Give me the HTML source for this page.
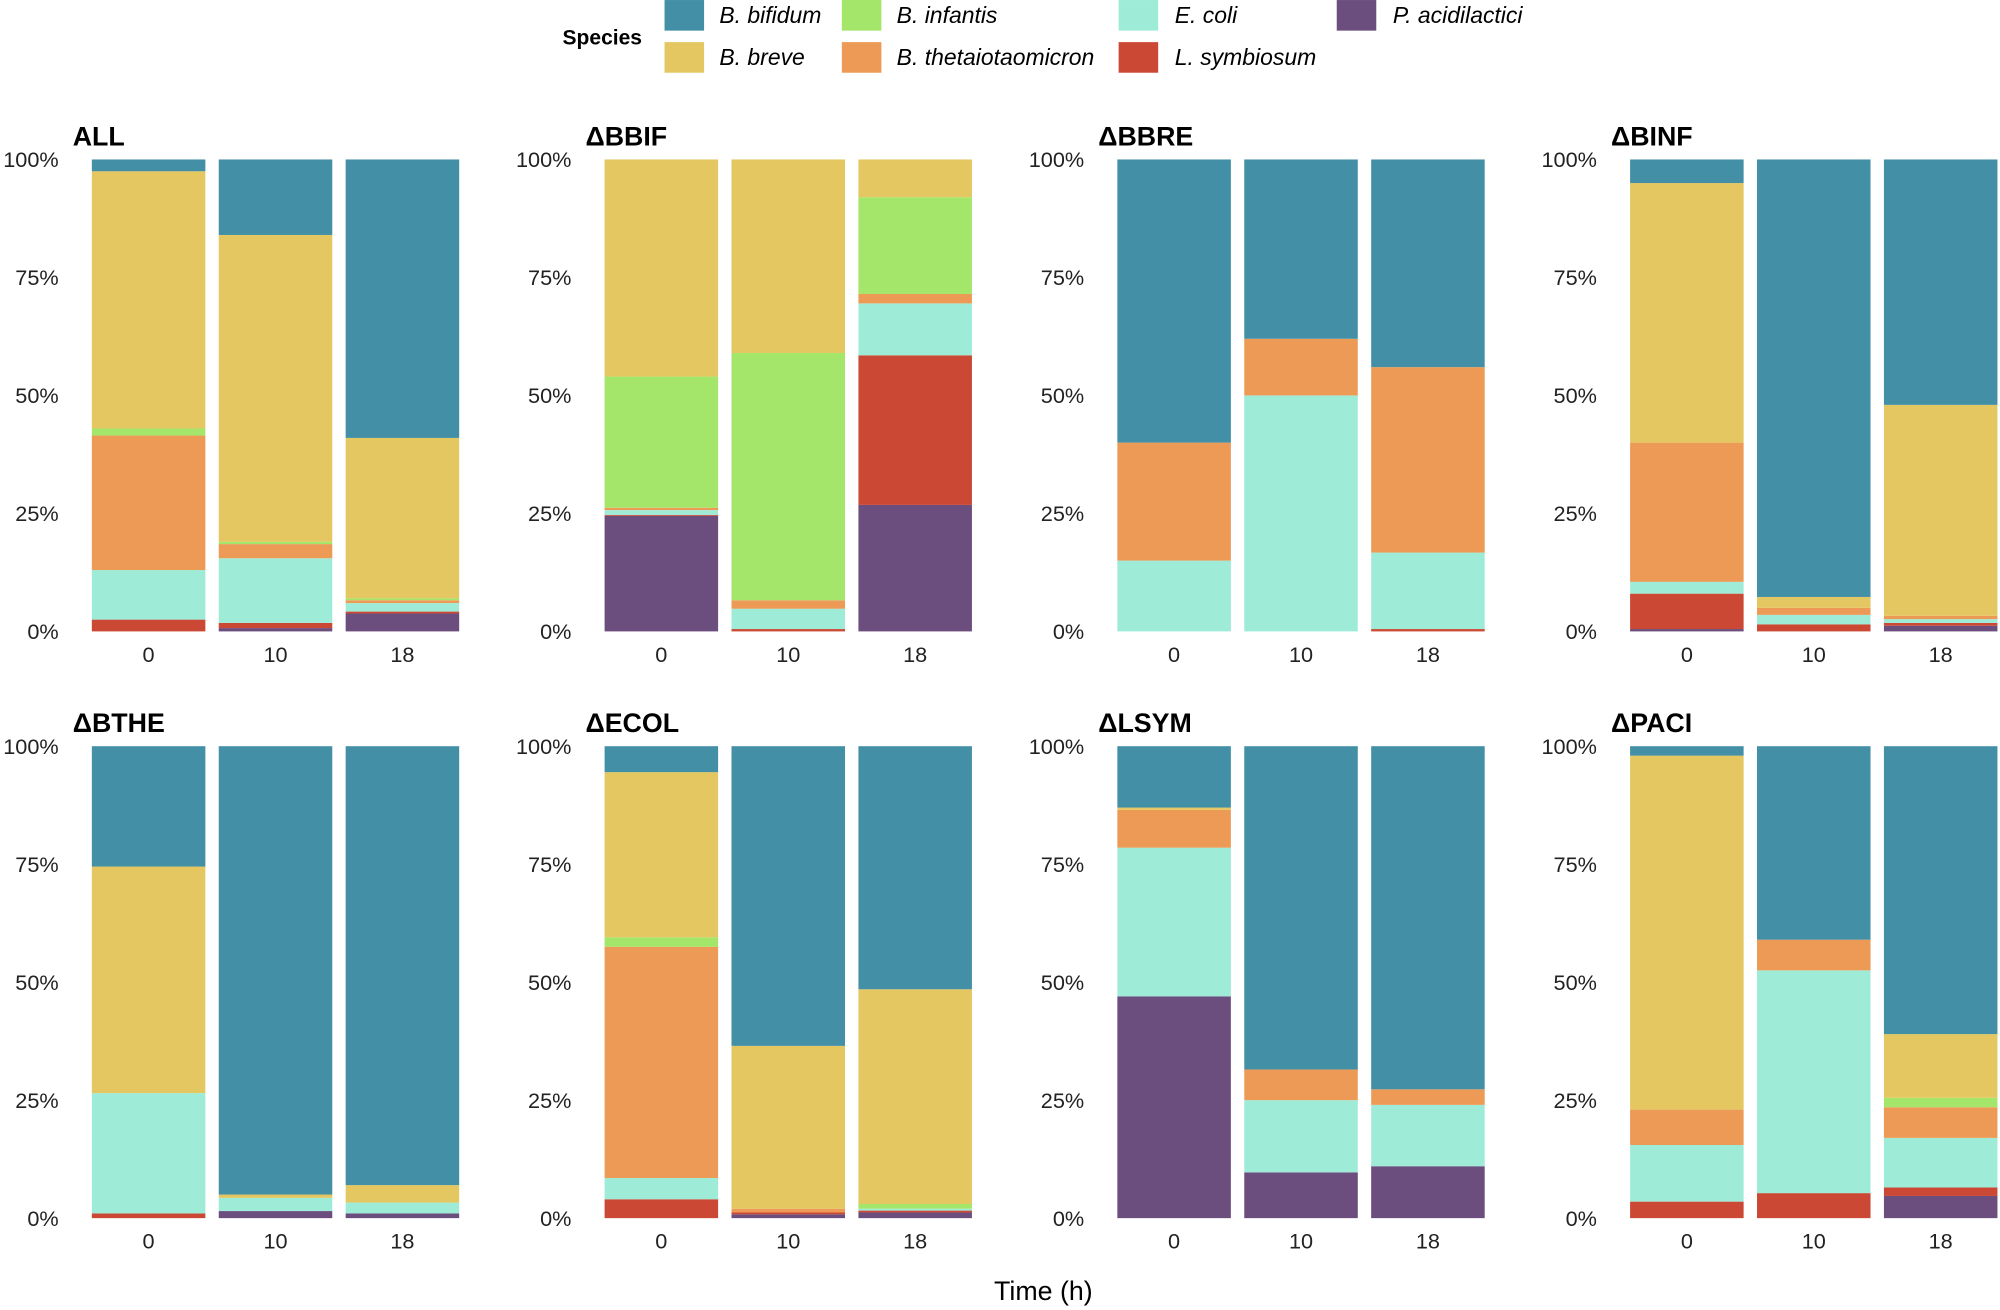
<!DOCTYPE html>
<html><head><meta charset="utf-8"><style>
html,body{margin:0;padding:0;background:#fff;}
svg{display:block;}
text{font-family:"Liberation Sans",Arial,sans-serif;}
</style></head><body>
<svg id="s" width="2000" height="1310" viewBox="0 0 1568 1027" xmlns="http://www.w3.org/2000/svg">
<rect width="1568" height="1027" fill="#fff"/>
<text x="441" y="35" font-size="16.5" font-weight="bold">Species</text>
<rect x="521" y="0" width="31" height="24" fill="#428FA6"/><text x="564" y="18" font-size="18" font-style="italic">B. bifidum</text>
<rect x="660" y="0" width="31" height="24" fill="#A4E66A"/><text x="703" y="18" font-size="18" font-style="italic">B. infantis</text>
<rect x="877" y="0" width="31" height="24" fill="#9EECD7"/><text x="921" y="18" font-size="18" font-style="italic">E. coli</text>
<rect x="1048" y="0" width="31" height="24" fill="#6B4E7E"/><text x="1092" y="18" font-size="18" font-style="italic">P. acidilactici</text>
<rect x="521" y="33" width="31" height="24" fill="#E4C760"/><text x="564" y="51" font-size="18" font-style="italic">B. breve</text>
<rect x="660" y="33" width="31" height="24" fill="#EC9A56"/><text x="703" y="51" font-size="18" font-style="italic">B. thetaiotaomicron</text>
<rect x="877" y="33" width="31" height="24" fill="#CB4834"/><text x="921" y="51" font-size="18" font-style="italic">L. symbiosum</text>
<text x="818" y="1019" font-size="21" text-anchor="middle">Time (h)</text>
<g id="g"></g>
</svg>
<script>
var C={p:"#6B4E7E",r:"#CB4834",e:"#9EECD7",o:"#EC9A56",g:"#A4E66A",y:"#E4C760",t:"#428FA6"};
var P=[
["ALL",[[["r",2.5],["e",13],["o",41.5],["g",43],["y",97.5],["t",100]],[["p",0.7],["r",1.8],["e",15.5],["o",18.5],["g",19],["y",84],["t",100]],[["p",3.8],["r",4.2],["e",6],["o",6.6],["g",7],["y",41],["t",100]]]],
["ΔBBIF",[[["p",24.5],["r",24.7],["e",25.7],["o",26.2],["g",54],["y",100]],[["r",0.5],["e",4.8],["o",6.6],["g",59],["y",100]],[["p",26.8],["r",58.5],["e",69.5],["o",71.5],["g",92],["y",100]]]],
["ΔBBRE",[[["e",15],["o",40],["t",100]],[["e",50],["o",62],["t",100]],[["r",0.5],["e",16.7],["o",56],["t",100]]]],
["ΔBINF",[[["p",0.5],["r",8],["e",10.5],["o",40],["y",95],["t",100]],[["r",1.5],["e",3.5],["o",5],["y",7.3],["t",100]],[["p",1.2],["r",1.8],["e",2.6],["o",3.3],["y",48],["t",100]]]],
["ΔBTHE",[[["r",1],["e",26.5],["y",74.5],["t",100]],[["p",1.5],["e",4.3],["y",5],["t",100]],[["p",1],["e",3.3],["y",7],["t",100]]]],
["ΔECOL",[[["r",4],["e",8.5],["o",57.5],["g",59.5],["y",94.5],["t",100]],[["p",0.8],["r",1.2],["o",2],["y",36.5],["t",100]],[["p",1.2],["r",1.6],["e",2],["g",3],["y",48.5],["t",100]]]],
["ΔLSYM",[[["p",47],["e",78.5],["o",86.5],["y",87],["t",100]],[["p",9.7],["e",25],["o",31.5],["t",100]],[["p",11],["e",24],["o",27.3],["t",100]]]],
["ΔPACI",[[["r",3.5],["e",15.5],["o",23],["y",98],["t",100]],[["r",5.3],["e",52.5],["o",59],["t",100]],[["p",4.7],["r",6.5],["e",17],["o",23.5],["g",25.5],["y",39],["t",100]]]]
];
var h="";
P.forEach(function(pp,i){
 var col=i%4,row=Math.floor(i/4);
 var ox=col*402, y0=row?955:495, y1=row?585:125, H=y0-y1;
 h+='<text x="'+(57+ox)+'" y="'+(y1-11)+'" font-size="21" font-weight="bold">'+pp[0]+'</text>';
 ["0%","25%","50%","75%","100%"].forEach(function(l,k){
   h+='<text x="'+(46+ox)+'" y="'+(y0-k*H/4+6)+'" font-size="17" fill="#222" text-anchor="end">'+l+'</text>';
 });
 ["0","10","18"].forEach(function(l,b){
   var bx=72+ox+b*99.5;
   h+='<text x="'+(bx+44.5)+'" y="'+(y0+24)+'" font-size="17" fill="#222" text-anchor="middle">'+l+'</text>';
   var prev=0;
   pp[1][b].forEach(function(s){
     var ya=y0-s[1]/100*H, yb=y0-prev/100*H;
     h+='<rect x="'+bx+'" y="'+ya.toFixed(2)+'" width="89" height="'+(yb-ya).toFixed(2)+'" fill="'+C[s[0]]+'"/>';
     prev=s[1];
   });
 });
});
document.getElementById("g").innerHTML=h;
</script>
</body></html>
